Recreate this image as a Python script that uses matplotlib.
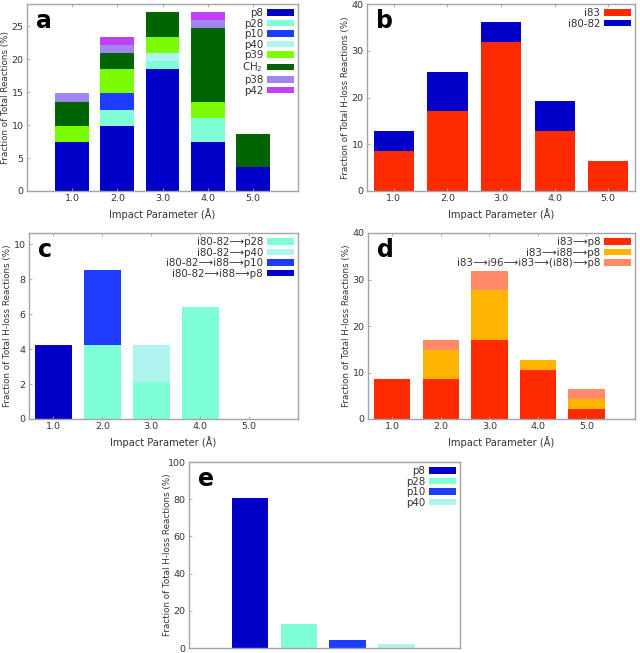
import numpy as np
import matplotlib
matplotlib.use('Agg')
import matplotlib.pyplot as plt

# impact parameters (Angstrom)
b_vals = [1.0, 2.0, 3.0, 4.0, 5.0]
b_ticklabels = ['1.0', '2.0', '3.0', '4.0', '5.0']

# panel a: fraction of total reactions (%)
a_labels = ['p8', 'p28', 'p10', 'p40', 'p39', 'CH$_2$', 'p38', 'p42']
a_p8 = [7.41, 9.88, 18.52, 7.41, 3.70]
a_p28 = [0.0, 2.47, 1.23, 3.70, 0.0]
a_p10 = [0.0, 2.47, 0.0, 0.0, 0.0]
a_p40 = [0.0, 0.0, 1.23, 0.0, 0.0]
a_p39 = [2.47, 3.70, 2.47, 2.47, 0.0]
a_ch2 = [3.70, 2.47, 3.70, 11.11, 4.94]
a_p38 = [1.23, 1.23, 0.0, 1.23, 0.0]
a_p42 = [0.0, 1.23, 0.0, 1.23, 0.0]

# panel b: fraction of total H-loss reactions (%)
b_labels = ['i83', 'i80-82']
b_i83 = [8.51, 17.02, 31.91, 12.77, 6.38]
b_i80 = [4.26, 8.51, 4.26, 6.38, 0.0]

# panel c
c_labels = ['i80-82⟶p28', 'i80-82⟶p40', 'i80-82⟶i88⟶p10', 'i80-82⟶i88⟶p8']
c_p28 = [0.0, 4.26, 2.13, 6.38, 0.0]
c_p40 = [0.0, 0.0, 2.13, 0.0, 0.0]
c_p10 = [0.0, 4.26, 0.0, 0.0, 0.0]
c_p8 = [4.26, 0.0, 0.0, 0.0, 0.0]

# panel d
d_labels = ['i83⟶p8', 'i83⟶i88⟶p8', 'i83⟶i96⟶i83⟶(i88)⟶p8']
d_direct = [8.51, 8.51, 17.02, 10.64, 2.13]
d_i88 = [0.0, 6.38, 10.64, 2.13, 2.13]
d_i96 = [0.0, 2.13, 4.26, 0.0, 2.13]

# panel e
e_labels = ['p8', 'p28', 'p10', 'p40']
e_vals = [80.85, 12.77, 4.26, 2.13]

col = {'p8': '#0000c8', 'p28': '#7fffd8', 'p10': '#1e3cff', 'p40': '#b0f4f0',
       'p39': '#7cfc00', 'CH2': '#006400', 'p38': '#a286f0', 'p42': '#c040f4',
       'red': '#ff2a00', 'orange': '#ffb400', 'salmon': '#ff8a6a'}

FS = 6.8
plt.rcParams['font.family'] = 'DejaVu Sans'
plt.rcParams['font.size'] = FS
tcol = '#333333'
scol = '#a0a4a8'

fig = plt.figure(figsize=(6.4, 6.53), dpi=100)
W, H = 640, 653


def make_ax(x0, x1, y0, y1):
    ax = fig.add_axes([x0 / W, 1 - y1 / H, (x1 - x0) / W, (y1 - y0) / H])
    ax._wpx = x1 - x0
    return ax


def style(ax, letter, ylabel, xlabel=True):
    for s in ax.spines.values():
        s.set_color(scol)
        s.set_linewidth(1.0)
    ax.tick_params(direction='in', length=2.5, width=0.6, color=scol,
                   labelcolor=tcol, labelsize=FS, top=True, right=False, pad=2.5)
    ax.set_ylabel(ylabel, color=tcol, fontsize=6.3)
    ax.yaxis.set_label_coords(-17.0 / ax._wpx, 0.5)
    if xlabel:
        ax.set_xticks(b_vals)
        ax.set_xticklabels(b_ticklabels)
        ax.set_xlabel('Impact Parameter (Å)', color=tcol, fontsize=FS + 0.3, labelpad=3)
    ax.text(0.035, 0.975, letter, transform=ax.transAxes, va='top', ha='left',
            fontsize=17, fontweight='bold')


def stack(ax, x, series, colors, labels, width=0.75):
    bottom = np.zeros(len(x))
    handles = []
    for vals, c, lab in zip(series, colors, labels):
        v = np.array(vals)
        h = ax.bar(x, v, width, bottom=bottom, color=c, label=lab, linewidth=0)
        handles.append(h)
        bottom += v
    return handles


def legend(ax, handles, labels):
    ax.legend(handles, labels, loc='upper right', frameon=False, markerfirst=False,
              fontsize=FS + 0.6, handlelength=2.6, handleheight=0.6,
              labelspacing=0.05, handletextpad=0.4, borderaxespad=0.15,
              borderpad=0.25, labelcolor=tcol)


# a
ax = make_ax(27, 298, 4, 191)
h = stack(ax, b_vals, [a_p8, a_p28, a_p10, a_p40, a_p39, a_ch2, a_p38, a_p42],
          [col['p8'], col['p28'], col['p10'], col['p40'], col['p39'], col['CH2'],
           col['p38'], col['p42']], a_labels)
ax.set_xlim(0, 6)
ax.set_ylim(0, 28.4)
ax.set_yticks([0, 5, 10, 15, 20, 25])
style(ax, 'a', 'Fraction of Total Reactions (%)')
legend(ax, h, a_labels)

# b
ax = make_ax(367, 635, 4, 191)
h = stack(ax, b_vals, [b_i83, b_i80], [col['red'], col['p8']], b_labels)
ax.set_xlim(0.5, 5.5)
ax.set_ylim(0, 40)
ax.set_yticks([0, 10, 20, 30, 40])
style(ax, 'b', 'Fraction of Total H-loss Reactions (%)')
legend(ax, h, b_labels)

# c
ax = make_ax(29, 298, 233, 419)
h = stack(ax, b_vals, [c_p8, c_p28, c_p40, c_p10],
          [col['p8'], col['p28'], col['p40'], col['p10']],
          [c_labels[3], c_labels[0], c_labels[1], c_labels[2]])
ax.set_xlim(0.5, 6.0)
ax.set_ylim(0, 10.64)
ax.set_yticks([0, 2, 4, 6, 8, 10])
style(ax, 'c', 'Fraction of Total H-loss Reactions (%)')
legend(ax, [h[1], h[2], h[3], h[0]], c_labels)

# d
ax = make_ax(368, 635, 233, 419)
h = stack(ax, b_vals, [d_direct, d_i88, d_i96],
          [col['red'], col['orange'], col['salmon']], d_labels)
ax.set_xlim(0.5, 6.0)
ax.set_ylim(0, 40)
ax.set_yticks([0, 10, 20, 30, 40])
style(ax, 'd', 'Fraction of Total H-loss Reactions (%)')
legend(ax, h, d_labels)

# e
ax = make_ax(189, 460, 462, 648)
xe = np.arange(1, len(e_vals) + 1)
h = []
for xi, v, lab in zip(xe, e_vals, e_labels):
    h.append(ax.bar(xi, v, 0.75, color=col[lab], label=lab, linewidth=0))
ax.set_xlim(-0.25, 5.3)
ax.set_ylim(0, 100)
ax.set_xticks([])
ax.set_yticks([0, 20, 40, 60, 80, 100])
style(ax, 'e', 'Fraction of Total H-loss Reactions (%)', xlabel=False)
legend(ax, h, e_labels)

fig.savefig('out.png', dpi=100)
